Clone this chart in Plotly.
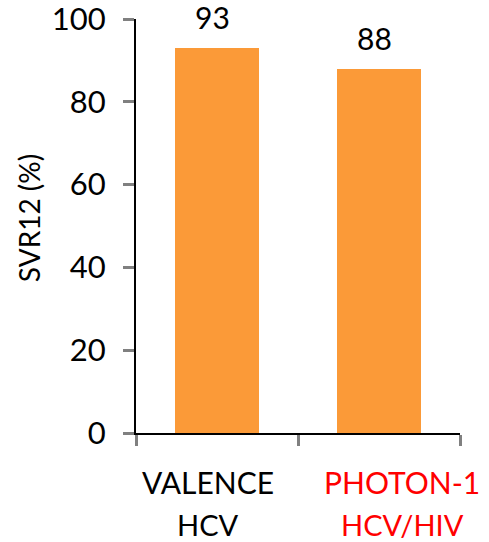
import plotly.graph_objects as go

categories = ["VALENCE<br>HCV", "PHOTON-1<br>HCV/HIV"]
line1 = ["VALENCE", "PHOTON-1"]
line2 = ["HCV", "HCV/HIV"]
label_colors = ["#000000", "#FF0000"]
label_shift = [-9, 23]
svr12 = [93, 88]
y_ticks = [0, 20, 40, 60, 80, 100]

FONT = "Lato, Open Sans, sans-serif"

fig = go.Figure()
fig.add_trace(go.Bar(
    x=categories, y=svr12, width=0.515,
    marker=dict(color="#FB9A38", line=dict(width=0)),
    showlegend=False, hoverinfo="skip",
))

# value labels
for c, v in zip(categories, svr12):
    fig.add_annotation(x=c, y=v, xref="x", yref="y", text=str(v), showarrow=False,
                       yanchor="bottom", yshift=11, xshift=-5,
                       font=dict(family=FONT, size=30, color="black"))

# category labels (two lines each)
for c, a, b, col, dx in zip(categories, line1, line2, label_colors, label_shift):
    fig.add_annotation(x=c, y=0, xref="x", yref="paper", text=a, showarrow=False,
                       yanchor="top", yshift=-29, xshift=dx, font=dict(family=FONT, size=30, color=col))
    fig.add_annotation(x=c, y=0, xref="x", yref="paper", text=b, showarrow=False,
                       yanchor="top", yshift=-72, xshift=dx, font=dict(family=FONT, size=29, color=col))

# y-axis title
fig.add_annotation(x=0, y=0.519, xref="paper", yref="paper", text="SVR12 (%)", textangle=-90,
                   showarrow=False, xanchor="center", yanchor="middle", xshift=-107,
                   font=dict(family=FONT, size=28, color="black"))

fig.update_layout(
    width=489, height=542,
    margin=dict(l=136, r=29, t=19, b=109, autoexpand=False),
    paper_bgcolor="white", plot_bgcolor="white",
    bargap=0,
    font=dict(family=FONT, color="black"),
    xaxis=dict(
        type="category", range=[-0.5, 1.5], showticklabels=False, automargin=False,
        tickson="boundaries", ticks="outside", ticklen=11, tickwidth=3, tickcolor="#808080",
        showline=True, linecolor="black", linewidth=2, showgrid=False, zeroline=False,
    ),
    yaxis=dict(
        range=[0, 100], tickvals=y_ticks, ticks="outside", ticklen=11, tickwidth=3,
        tickcolor="#808080", tickfont=dict(family=FONT, size=31, color="black"),
        ticklabelstandoff=11, ticklabeloverflow="allow", automargin=False,
        showline=True, linecolor="black", linewidth=2, showgrid=False, zeroline=False,
    ),
)

fig.write_html("out.html")
